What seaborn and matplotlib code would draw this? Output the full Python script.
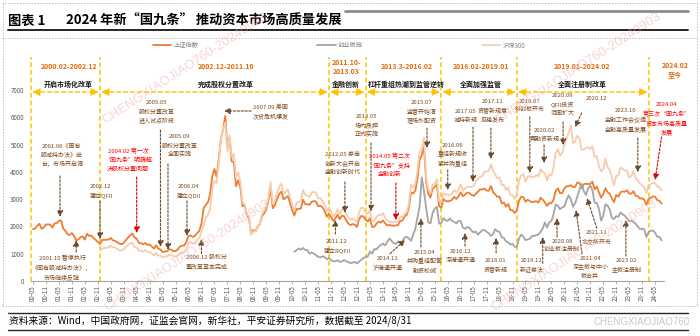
import matplotlib
matplotlib.use("Agg")
import matplotlib.pyplot as plt
from matplotlib.lines import Line2D
import numpy as np
import pandas as pd
import seaborn as sns

# ---------------- data ----------------
series_names = ["上证指数", "创业板指", "沪深300"]

sse_start = "2000-05"
sse = [
    1894, 1928, 2023, 2097, 1911, 1961, 2071, 2073,
    2066, 1960, 2112, 2119, 2215, 2218, 1920, 1834, 1707, 1690, 1757, 1646,
    1490, 1524, 1603, 1634, 1515, 1733, 1652, 1670, 1581, 1507, 1431, 1358,
    1500, 1512, 1510, 1521, 1576, 1487, 1476, 1421, 1367, 1349, 1397, 1497,
    1590, 1675, 1742, 1595, 1555, 1400, 1386, 1342, 1396, 1320, 1340, 1266,
    1191, 1306, 1181, 1159, 1060, 1080, 1083, 1162, 1155, 1092, 1099, 1161,
    1258, 1299, 1299, 1440, 1641, 1672, 1612, 1658, 1753, 1837, 2099, 2675,
    2786, 2881, 3184, 3841, 4109, 3820, 4471, 5219, 5552, 6050, 4871, 5262,
    4383, 4349, 3473, 3693, 3433, 2736, 2776, 2397, 2293, 1729, 1871, 1821,
    1991, 2082, 2373, 2477, 2633, 2959, 3412, 2667, 2779, 2996, 3195, 3277,
    2989, 3051, 3110, 2871, 2592, 2398, 2638, 2639, 2656, 2979, 2820, 2808,
    2791, 2905, 2928, 2911, 2743, 2762, 2701, 2568, 2359, 2468, 2333, 2199,
    2293, 2429, 2263, 2397, 2373, 2225, 2103, 2048, 2086, 2069, 1981, 2269,
    2385, 2366, 2237, 2178, 2301, 1979, 1994, 2098, 2175, 2141, 2221, 2116,
    2033, 2056, 2033, 2026, 2039, 2048, 2202, 2217, 2364, 2420, 2683, 3235,
    3210, 3310, 3748, 4442, 4612, 4950, 3664, 3206, 3053, 3383, 3446, 3539,
    2738, 2688, 3004, 2938, 2917, 2930, 2979, 3085, 3005, 3100, 3250, 3104,
    3159, 3242, 3223, 3155, 3117, 3192, 3273, 3361, 3349, 3393, 3317, 3307,
    3481, 3259, 3169, 3082, 3095, 2847, 2876, 2725, 2821, 2603, 2588, 2494,
    2585, 2941, 3091, 3078, 2899, 2979, 2933, 2886, 2905, 2929, 2871, 3050,
    2977, 2880, 2750, 2860, 2852, 2985, 3310, 3396, 3218, 3225, 3392, 3473,
    3483, 3509, 3442, 3447, 3615, 3591, 3397, 3544, 3568, 3547, 3564, 3640,
    3361, 3462, 3252, 3047, 3186, 3399, 3253, 3202, 3024, 2893, 3151, 3089,
    3256, 3280, 3273, 3323, 3205, 3202, 3291, 3120, 3110, 3019, 3030, 2975,
    2789, 3015, 3041, 3105, 3087, 2967, 2939, 2842,
]

hs300_start = "2002-12"
hs300 = [
    1120,
    1200, 1210, 1215, 1240, 1290, 1230, 1230, 1180, 1120, 1110, 1170, 1250,
    1320, 1380, 1400, 1250, 1230, 1110, 1110, 1070, 1130, 1060, 1070, 1000,
    940, 1030, 930, 930, 860, 900, 900, 960, 960, 910, 910, 923,
    1007, 1045, 1062, 1174, 1390, 1440, 1370, 1410, 1510, 1580, 1810, 2042,
    2330, 2410, 2650, 3380, 3660, 3580, 4320, 5230, 5570, 5800, 4740, 5339,
    4550, 4670, 3790, 3990, 3650, 2870, 2820, 2410, 2360, 1690, 1820, 1817,
    2000, 2100, 2440, 2580, 2740, 3060, 3640, 2830, 2950, 3250, 3450, 3575,
    3200, 3280, 3350, 3070, 2800, 2560, 2870, 2900, 2940, 3340, 3160, 3128,
    3080, 3240, 3270, 3230, 3030, 3040, 2940, 2790, 2560, 2700, 2560, 2346,
    2460, 2630, 2450, 2620, 2610, 2460, 2330, 2260, 2290, 2250, 2140, 2523,
    2690, 2670, 2500, 2460, 2600, 2200, 2210, 2340, 2440, 2410, 2490, 2331,
    2200, 2180, 2150, 2160, 2160, 2170, 2350, 2340, 2450, 2510, 2810, 3533,
    3430, 3570, 4050, 4750, 4840, 5250, 3820, 3370, 3200, 3530, 3570, 3731,
    2950, 2880, 3220, 3160, 3170, 3150, 3200, 3330, 3250, 3340, 3540, 3311,
    3390, 3450, 3460, 3440, 3490, 3670, 3740, 3820, 3840, 4010, 4010, 4031,
    4280, 4020, 3900, 3760, 3800, 3510, 3520, 3330, 3440, 3150, 3140, 3011,
    3200, 3670, 3870, 3910, 3630, 3830, 3840, 3800, 3810, 3890, 3830, 4097,
    4000, 3940, 3690, 3910, 3870, 4160, 4700, 4820, 4590, 4700, 4980, 5211,
    5450, 5700, 5050, 5120, 5330, 5220, 4810, 4820, 4870, 4910, 4830, 4940,
    4560, 4580, 4220, 4020, 4090, 4490, 4170, 4080, 3800, 3510, 3850, 3871,
    4160, 4100, 4050, 4030, 3800, 3840, 4030, 3770, 3690, 3570, 3500, 3431,
    3220, 3520, 3540, 3600, 3580, 3460, 3440, 3320,
]

chinext_start = "2010-06"
chinext = [
    1070, 1130, 1190, 1150, 1210, 1140, 1137,
    1000, 1050, 1000, 950, 880, 870, 900, 880, 800, 840, 760, 730,
    720, 760, 700, 720, 770, 720, 700, 650, 680, 700, 640, 715,
    780, 850, 870, 900, 1080, 1000, 1170, 1160, 1260, 1320, 1370, 1304,
    1430, 1560, 1470, 1380, 1360, 1450, 1420, 1460, 1590, 1620, 1560, 1472,
    1700, 1910, 2330, 2750, 3800, 3300, 2680, 2150, 2110, 2490, 2660, 2715,
    2100, 2130, 2300, 2230, 2200, 2290, 2200, 2170, 2110, 2200, 2200, 1960,
    1910, 1980, 1950, 1850, 1780, 1810, 1700, 1780, 1860, 1870, 1800, 1753,
    1650, 1730, 1900, 1820, 1800, 1600, 1580, 1450, 1420, 1340, 1360, 1250,
    1250, 1560, 1700, 1630, 1500, 1520, 1550, 1650, 1650, 1680, 1700, 1799,
    1920, 2150, 1960, 2150, 2200, 2450, 2800, 2760, 2630, 2700, 2730, 2967,
    3140, 3000, 2720, 2850, 3100, 3350, 3550, 3300, 3150, 3400, 3500, 3322,
    2870, 2860, 2650, 2210, 2400, 2810, 2760, 2630, 2310, 2270, 2380, 2346,
    2510, 2440, 2390, 2300, 2200, 2210, 2170, 2100, 2000, 1900, 1920, 1891,
    1610, 1800, 1840, 1850, 1770, 1620, 1620, 1490,
]

period_bounds = ["2000-02", "2002-12", "2011-10", "2013-03", "2016-02", "2019-01", "2024-02"]
period_dates = ["2000.02-2002.12", "2002.12-2011.10", "2011.10-\n2013.03", "2013.3-2016.02",
                "2016.02-2019.01", "2019.01-2024.02", "2024.02\n至今"]
period_desc = ["开启市场化改革", "完成股权分置改革", "金融创新", "杠杆重组热潮到监管逆转",
               "全面加强监管", "全面注册制改革", ""]

yticks = [0, 1000, 2000, 3000, 4000, 5000, 6000, 7000]

# ---------------- helpers ----------------
def mi(s):
    y, m = map(int, s.split("-"))
    return (y - 2000) * 12 + (m - 5)

rows = []
for name, start, vals in [(series_names[0], sse_start, sse),
                          (series_names[1], chinext_start, chinext),
                          (series_names[2], hs300_start, hs300)]:
    s0 = mi(start)
    for i, v in enumerate(vals):
        rows.append({"m": s0 + i, "value": v, "series": name})
df = pd.DataFrame(rows)

tick_pos = list(range(0, mi("2024-05") + 1, 6))
tick_lab = []
for p in tick_pos:
    tot = 4 + p  # months since 2000-01 (0-based)
    tick_lab.append(f"{tot // 12:02d}-{tot % 12 + 1:02d}")

# ---------------- style ----------------
sns.set_style("white")
plt.rcParams["font.family"] = ["Noto Sans CJK SC", "DejaVu Sans"]
plt.rcParams["axes.unicode_minus"] = False

W, H = 700, 336
fig = plt.figure(figsize=(7, 3.36), dpi=100)
XL, XR = -1, 292
ax_left_px = 33 + 2.16 * XL
ax_right_px = 33 + 2.16 * XR
ax = fig.add_axes([ax_left_px / W, (H - 281) / H, (ax_right_px - ax_left_px) / W, 191 / H])

colors = {"上证指数": "#ED7D31", "创业板指": "#A5A5A5", "沪深300": "#F8CBAD"}
sns.lineplot(data=df, x="m", y="value", hue="series", hue_order=series_names,
             palette=colors, linewidth=1.3, estimator=None, sort=False, ax=ax)

ax.set_xlim(XL, XR)
ax.set_ylim(0, 7000)
ax.set_xlabel("")
ax.set_ylabel("")
for s in ["top", "right", "left"]:
    ax.spines[s].set_visible(False)
ax.spines["bottom"].set_color("#A6A6A6")
ax.spines["bottom"].set_linewidth(0.8)
ax.set_yticks(yticks)
ax.set_yticklabels([str(v) for v in yticks])
ax.set_xticks(tick_pos)
ax.set_xticklabels(tick_lab, rotation=90)
ax.tick_params(axis="y", length=0, pad=5, labelsize=4.5, labelcolor="#595959")
ax.tick_params(axis="x", length=2, width=0.6, color="#A6A6A6", pad=1, labelsize=4.5,
               labelcolor="#595959", bottom=True)

sns.move_legend(ax, "center left", bbox_to_anchor=(153 / W, 1 - 45 / H),
                bbox_transform=fig.transFigure, ncol=3, frameon=False, title=None,
                fontsize=4.5, columnspacing=19, handlelength=2.9, handletextpad=0.4,
                borderpad=0, borderaxespad=0)
for t in ax.get_legend().get_texts():
    t.set_color("#7F7F7F")

# ---------------- periods ----------------
YEL = "#FFC000"
bx = [max(mi(b), XL + 0.1) for b in period_bounds]
ax.vlines(bx, 0, 8208, colors=YEL, linestyles=(0, (3, 2)), linewidth=1.1, clip_on=False, zorder=1)
arrow_y = 6925
for i in range(len(bx) - 1):
    ax.annotate("", xy=(bx[i + 1] - 0.5, arrow_y), xytext=(bx[i] + 0.5, arrow_y),
                arrowprops=dict(arrowstyle="<|-|>,head_length=0.45,head_width=0.22", color=YEL,
                                lw=1.0, linestyle=(0, (3, 2)), shrinkA=0, shrinkB=0),
                annotation_clip=False)

label_center = [16.5, 89.4, 145, 173, 207.4, 254.4, 297.2]
for i, (d, desc) in enumerate(zip(period_dates, period_desc)):
    if "\n" in d:
        top, bot = d.split("\n")
        y1, y2 = (8025, 7695) if i == 2 else (7915, 7512)
        ax.text(label_center[i], y1, top, ha="center", va="center", fontsize=5,
                fontweight="bold", color="#E46C0A")
        ax.text(label_center[i], y2, bot, ha="center", va="center", fontsize=5,
                fontweight="bold", color="#E46C0A")
    else:
        ax.text(label_center[i], 7878, d, ha="center", va="center", fontsize=5,
                fontweight="bold", color="#E46C0A")
    if desc:
        ax.text(label_center[i], 7219, desc, ha="center", va="center", fontsize=5,
                fontweight="bold", color="#1A1A1A")

# ---------------- event annotations ----------------
BR = "#7F4A1E"
RED = "#FF0000"
events = [
    ("2001.06《国有\n股减持办法》出\n台，市场开启调", BR, 13.4, 5050, "top", (12.5, 3850), (12.5, 2350)),
    ("2002.12\n建立QFII", BR, 31.5, 3550, "top", (31, 2930), (31, 1540)),
    ("2004.02 第一次\n“国九条”明确解\n决股权分置问题", RED, 44, 4870, "top", (48, 3810), (48, 1760)),
    ("2005.05\n股权分置改革\n进入试点阶段", BR, 57.4, 6630, "top", (59, 5530), (59, 1250)),
    ("2005.09\n股权分置改革\n全面实施", BR, 68, 5390, "top", (62.5, 4290), (62.5, 1140)),
    ("2006.04\n建立QDII", BR, 72, 3550, "top", (71.3, 2930), (71.3, 1650)),
    ("2007.09 美国\n次贷危机爆发", BR, 101.9, 6490, "left", (101, 6230), (88.5, 6230)),
    ("2001.10 暂停执行\n《国有股减持办法》，\n市场继续反弹", BR, 13.4, 950, "top", (20, 1060), (20, 1500)),
    ("2006.12 股权分\n置改革基本完成", BR, 80.5, 950, "top", (78, 1000), (78, 1540)),
    ("2012.05 券商\n创新大会开启\n金融创新时代", BR, 143.5, 4730, "top", (144.4, 3630), (144.4, 2500)),
    ("2013.05\n场内质押\n正式实施", BR, 154.6, 6120, "top", (156.5, 5060), (156.5, 2550)),
    ("2011.12\n建立RQFII", BR, 140.7, 1540, "top", (140, 1720), (140, 2235)),
    ("2014.05 第二次\n“国九条”支持\n金融创新", RED, 165, 4690, "top", (168, 3590), (168, 2235)),
    ("2014.11\n沪港通开通", BR, 164, 915, "top", (165.3, 1000), (172.2, 1500)),
    ("2015.07\n监管开始清\n理场外配资", BR, 180, 6630, "top", (182.4, 5600), (182.4, 4870)),
    ("2015.04\n并购重组配套\n融资松绑", BR, 181.5, 1140, "top", (179.6, 1250), (179.6, 2300)),
    ("2016.06\n重组新规收\n紧并购重组", BR, 194.4, 5060, "top", (192, 4070), (192, 3330)),
    ("2016.12\n深港通开通", BR, 198, 1170, "top", (200, 1280), (200, 1760)),
    ("2017.05\n减持新规", BR, 200.5, 6300, "top", (203.7, 5640), (203.7, 3630)),
    ("2017.11\n资管新规意\n见稿发布", BR, 213, 6670, "top", (212, 5600), (212, 4470)),
    ("2018.01\n资管新规", BR, 214, 840, "top", (214.4, 1030), (214.4, 1580)),
    ("2019.07\n科创板开市", BR, 230, 6670, "top", (230, 6010), (230, 3960)),
    ("2020.02\n再融资新规", BR, 237, 5600, "top", (236.6, 4980), (236.6, 4320)),
    ("2020.09\nQFII投资\n范围扩大", BR, 245, 6890, "top", (245.4, 5830), (245.4, 4980)),
    ("2020.12", BR, 261, 6780, "top", (254, 6160), (251, 5640)),
    ("2019.12\n新证券法", BR, 231, 840, "top", (236, 650), (236, 1610)),
    ("2020.08\n创业板注册制", BR, 245, 1540, "top", (242.6, 1610), (242.6, 2300)),
    ("2021.04\n深主板与中小\n板合并", BR, 258, 915, "top", (254.2, 990), (251.4, 2600)),
    ("2021.11\n北交所开市", BR, 261, 1870, "top", (261, 1940), (256.5, 3040)),
    ("2023.02\n主板注册制", BR, 275, 840, "top", (274.5, 915), (274.5, 2235)),
    ("2023.10\n金融工作会议提\n金融高质量发展", BR, 274.5, 6340, "top", (280, 5240), (280, 3990)),
    ("2024.04\n第三次“国九条”\n资本市场高质量\n发展", RED, 293.5, 6560, "top", (291, 5280), (288, 3700)),
]
for txt, col, tx, ty, mode, a0, a1 in events:
    if mode == "left":
        ax.text(tx, ty, txt, ha="left", va="top", fontsize=4.3, color=col,
                linespacing=1.7, zorder=6)
    else:
        ax.text(tx, ty, txt, ha="center", va="top", fontsize=4.3, color=col,
                linespacing=1.7, zorder=6)
    acol = "#E00000" if col == RED else "#6B4A2B"
    ax.annotate("", xy=a1, xytext=a0,
                arrowprops=dict(arrowstyle="-|>,head_length=0.35,head_width=0.18", color=acol,
                                lw=0.8, linestyle=(0, (2, 1.5)), shrinkA=0, shrinkB=0),
                annotation_clip=False, zorder=6)

# ---------------- page decorations ----------------
def hline(y, x0, x1, **kw):
    fig.add_artist(Line2D([x0 / W, x1 / W], [1 - y / H, 1 - y / H], transform=fig.transFigure, **kw))

def vline(x, y0, y1, **kw):
    fig.add_artist(Line2D([x / W, x / W], [1 - y0 / H, 1 - y1 / H], transform=fig.transFigure, **kw))

dot = dict(color="#BFBFBF", lw=0.7, linestyle=(0, (1.5, 1.5)))
hline(3, 2, 697, **dot)
hline(38, 2, 697, **dot)
hline(306, 2, 697, **dot)
vline(2.5, 3, 306, **dot)
vline(696.5, 3, 306, **dot)

hline(11, 345, 688, color="#8C8C8C", lw=2.0)
hline(30, 8, 688, color="#262626", lw=1.4)
hline(313, 8, 688, color="#262626", lw=1.0)
hline(330, 8, 688, color="#262626", lw=1.0)

fig.text(8 / W, 1 - 21 / H, "图表 1", fontsize=9.5, fontweight="bold", color="#000000",
         ha="left", va="center")
fig.text(66 / W, 1 - 21 / H, "2024 年新“国九条” 推动资本市场高质量发展", fontsize=9.5,
         fontweight="bold", color="#000000", ha="left", va="center")
fig.text(9 / W, 1 - 321 / H,
         "资料来源：Wind，中国政府网，证监会官网，新华社，平安证券研究所，数据截至 2024/8/31",
         fontsize=7, color="#000000", ha="left", va="center")
fig.text(690 / W, 1 - 322 / H, "CHENGXIAOJIAO760", fontsize=7, color="#C8C8C8",
         ha="right", va="center", family=["Liberation Sans", "DejaVu Sans"])

for cx, cy in [(185, 68), (578, 68), (187, 255), (574, 255)]:
    fig.text(cx / W, 1 - cy / H, "CHENGXIAOJIAO760-20240903", rotation=33, fontsize=9.5,
             color="#F2A0A0", alpha=0.45, ha="center", va="center",
             family=["Liberation Sans", "DejaVu Sans"], zorder=10)

fig.savefig("out.png", dpi=100)
